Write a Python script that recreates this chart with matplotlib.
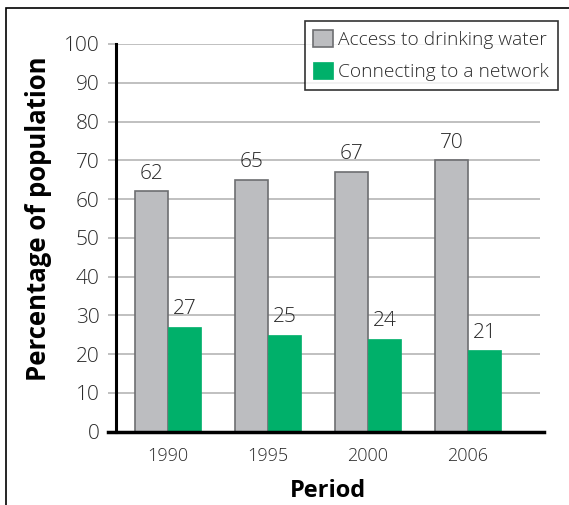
import matplotlib.pyplot as plt
import numpy as np
from matplotlib.patches import Rectangle
from matplotlib.lines import Line2D

plt.rcParams['font.family'] = ['Open Sans', 'DejaVu Sans']

# Data
periods = ['1990', '1995', '2000', '2006']
access_water = [62, 65, 67, 70]
network = [27, 25, 24, 21]
label_access = 'Access to drinking water'
label_network = 'Connecting to a network'

gray = '#BCBDC0'
gray_edge = '#6D6E71'
green = '#00B06A'
text_col = '#2a2a2a'

fig = plt.figure(figsize=(5.69, 5.05), dpi=100)
ax = fig.add_axes([0.204, 0.145, 0.745, 0.768])

x = np.arange(len(periods))
w = 0.33
b1 = ax.bar(x - w / 2, access_water, w, color=gray, edgecolor=gray_edge,
            linewidth=1.2, label=label_access, zorder=3)
b2 = ax.bar(x + w / 2, network, w, color=green, edgecolor=green,
            linewidth=0.5, label=label_network, zorder=3)

for bars, vals in [(b1, access_water), (b2, network)]:
    for bar, v in zip(bars, vals):
        ax.text(bar.get_x() + bar.get_width() / 2, v + 2.0, str(v),
                ha='center', va='bottom', fontsize=15, color=text_col,
                fontweight='light')

ax.set_xlim(-0.52, 3.72)
ax.set_ylim(0, 100)
ax.set_yticks(range(0, 101, 10))
ax.set_xticks(x)
ax.set_xticklabels(periods)
ax.yaxis.grid(True, color='#B5B5B5', linewidth=1.2, zorder=0)
ax.set_axisbelow(True)
ax.tick_params(axis='y', length=6, width=1.2, color='#B5B5B5',
               labelsize=15, labelcolor=text_col, pad=6)
ax.tick_params(axis='x', length=0, labelsize=13, labelcolor=text_col, pad=11)
for lab in ax.get_xticklabels() + ax.get_yticklabels():
    lab.set_fontweight('light')

for s in ['top', 'right', 'bottom']:
    ax.spines[s].set_visible(False)
ax.spines['left'].set_linewidth(2.2)
ax.spines['left'].set_color('black')
ax.add_line(Line2D([-0.02, 1.01], [0, 0], transform=ax.transAxes,
                   color='black', linewidth=2.5, clip_on=False, zorder=5))

ax.set_ylabel('Percentage of population', fontsize=18.5, fontweight='bold')
ax.yaxis.set_label_coords(-0.152, 0.55)
ax.set_xlabel('Period', fontsize=17, fontweight='bold', labelpad=10)

leg = ax.legend(loc='upper right', bbox_to_anchor=(1.042, 1.059), fontsize=13.8,
                frameon=True, fancybox=False, edgecolor='black',
                handlelength=1.0, handleheight=1.0, handletextpad=0.3,
                borderpad=0.45, labelspacing=0.7, borderaxespad=0)
leg.get_frame().set_linewidth(1.2)
leg.set_zorder(10)
for t in leg.get_texts():
    t.set_fontweight('light')
    t.set_color(text_col)

# outer frame of the figure (left and top edges visible)
fig.patches.append(Rectangle((6 / 569, -0.1), 1.2, 1 - 8 / 505 + 0.1,
                             transform=fig.transFigure, fill=False,
                             edgecolor='black', linewidth=1.2))

fig.savefig('out.png', dpi=100)
